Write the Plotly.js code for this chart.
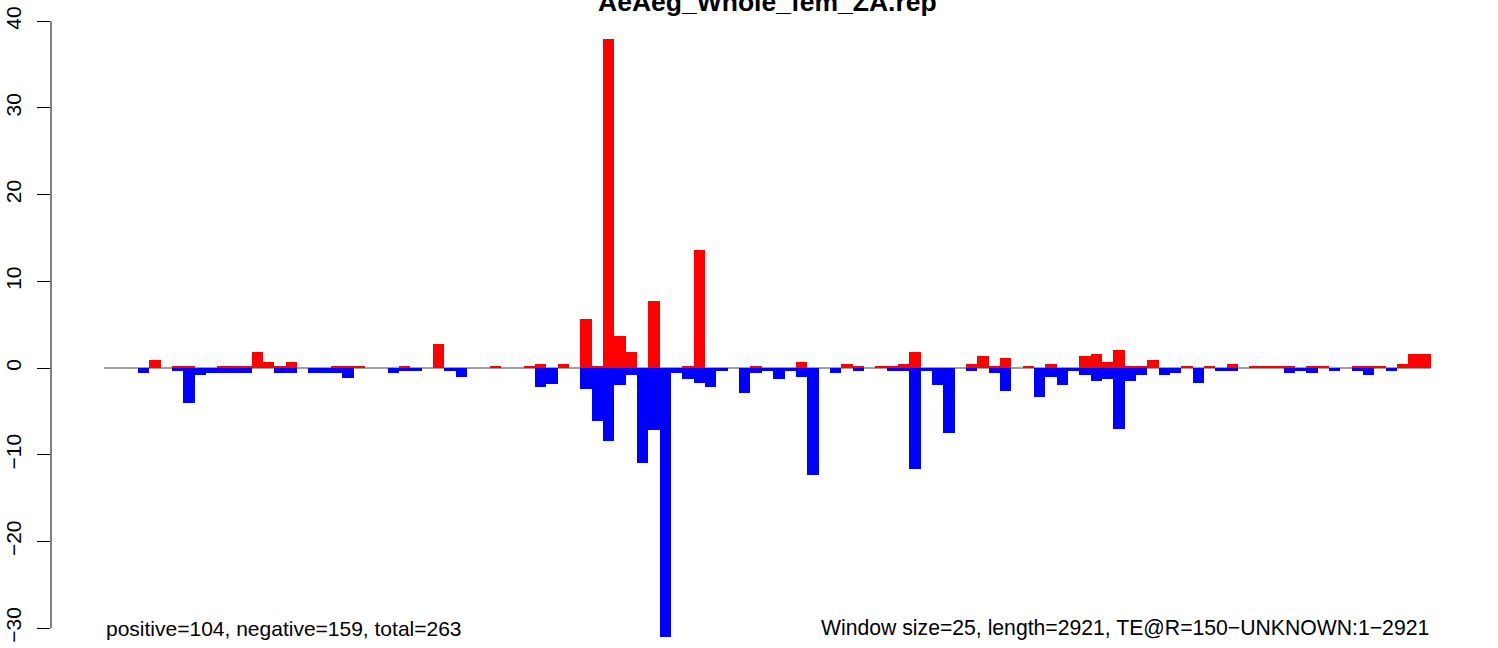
<!DOCTYPE html>
<html>
<head>
<meta charset="utf-8">
<script src="https://cdn.plot.ly/plotly-3.0.1.min.js"></script>
<style>html,body{margin:0;padding:0;background:#fff;}#chart{width:1498px;height:648px;}</style>
</head>
<body>
<div id="chart"></div>
<script>
// Window index (window size 25, length 2921 -> 117 windows)
const windows = Array.from({length: 117}, (_, i) => i);

// Positive-strand values per window (red)
const positiveValues = [
  0, 0, 0, 0, 0.92, 0, 0.23, 0.23, 0, 0,
  0.23, 0.23, 0.23, 1.85, 0.7, 0.23, 0.7, 0, 0, 0,
  0.23, 0.23, 0.23, 0, 0, 0, 0.23, 0, 0, 2.77,
  0, 0, 0, 0, 0.23, 0, 0, 0.23, 0.46, 0,
  0.46, 0, 5.6, 0.23, 38, 3.65, 1.8, 0, 7.7, 0,
  0, 0.23, 13.65, 0, 0, 0, 0, 0.23, 0, 0,
  0, 0.7, 0, 0, 0, 0.46, 0.23, 0, 0.23, 0.23,
  0.46, 1.85, 0, 0, 0, 0, 0.46, 1.38, 0.23, 1.15,
  0, 0.23, 0, 0.46, 0, 0, 1.38, 1.6, 0.7, 2.08,
  0.23, 0.23, 0.92, 0, 0, 0.23, 0, 0.23, 0, 0.46,
  0, 0.23, 0.23, 0.23, 0.23, 0, 0.23, 0.23, 0, 0,
  0.23, 0.23, 0.23, 0, 0.46, 1.6, 1.6
];

// Negative-strand values per window (blue)
const negativeValues = [
  0, 0, 0, -0.55, 0, 0, -0.3, -4.0, -0.77, -0.55,
  -0.55, -0.55, -0.55, 0, 0, -0.55, -0.55, 0, -0.55, -0.55,
  -0.55, -1.2, 0, 0, 0, -0.55, -0.3, -0.3, 0, 0,
  -0.3, -1.0, 0, 0, 0, 0, 0, 0, -2.2, -1.9,
  0, 0, -2.4, -6.15, -8.45, -2.0, -0.8, -11.0, -7.1, -31.0,
  -0.55, -1.23, -1.7, -2.2, -0.3, 0, -2.85, -0.55, -0.3, -1.23,
  -0.3, -1.0, -12.3, 0, -0.55, 0, -0.3, 0, 0, -0.3,
  -0.3, -11.6, -0.3, -1.92, -7.46, 0, -0.3, 0, -0.55, -2.6,
  0, 0, -3.3, -1.0, -1.92, -0.3, -0.77, -1.46, -1.23, -7.0,
  -1.46, -0.77, 0, -0.77, -0.55, 0, -1.73, 0, -0.3, -0.3,
  0, 0, 0, 0, -0.55, -0.3, -0.55, 0, -0.3, 0,
  -0.3, -0.77, 0, -0.3, 0, 0, 0
];

const yTickValues = [-30, -20, -10, 0, 10, 20, 30, 40];
const yTickLabels = ["\u221230", "\u221220", "\u221210", "0", "10", "20", "30", "40"];

const chartTitle = "AeAeg_Whole_fem_ZA.rep";
const leftNote = "positive=104, negative=159, total=263";
const rightNote = "Window size=25, length=2921, TE@R=150\u2212UNKNOWN:1\u22122921";

const FONT = "Liberation Sans, Arial, Helvetica, sans-serif";
const n = windows.length;
const pad = 0.04 * n;

const traces = [
  {type: "bar", x: windows, y: positiveValues, marker: {color: "#ff0000", line: {width: 0}}, hoverinfo: "x+y"},
  {type: "bar", x: windows, y: negativeValues, marker: {color: "#0000ff", line: {width: 0}}, hoverinfo: "x+y"}
];

const layout = {
  width: 1498, height: 648,
  margin: {l: 51, r: 14, t: 15, b: 8},
  paper_bgcolor: "#ffffff", plot_bgcolor: "#ffffff",
  showlegend: false,
  barmode: "overlay", bargap: 0,
  xaxis: {visible: false, range: [-0.5 - pad, n - 0.5 + pad], fixedrange: true},
  yaxis: {
    range: [-31.37, 40.715],
    tickvals: yTickValues, ticktext: yTickLabels,
    tickangle: -90, ticks: "outside", ticklen: 13, tickwidth: 1, tickcolor: "#000",
    showline: false, zeroline: false, showgrid: false,
    tickfont: {family: FONT, size: 21, color: "#000"},
    ticklabelstandoff: 8
  },
  shapes: [
    {type: "line", xref: "x", yref: "y", x0: -0.5, x1: n - 0.5, y0: 0, y1: 0, line: {color: "#a0a0a0", width: 2}, layer: "below"},
    {type: "line", xref: "paper", yref: "y", x0: 0, x1: 0, y0: -30, y1: 40, line: {color: "#000", width: 1}}
  ],
  annotations: [
    {text: "<b>" + chartTitle + "</b>", xref: "paper", yref: "paper", x: 0.5, y: 1, xanchor: "center", yanchor: "bottom", yshift: -4, showarrow: false, font: {family: FONT, size: 26.5, color: "#000"}},
    {text: leftNote, xref: "x", yref: "paper", x: -0.5, y: 0, xanchor: "left", yanchor: "bottom", yshift: -2, showarrow: false, font: {family: FONT, size: 21, color: "#000"}},
    {text: rightNote, xref: "x", yref: "paper", x: n - 0.5, y: 0, xanchor: "right", yanchor: "bottom", yshift: -2, showarrow: false, font: {family: FONT, size: 21.2, color: "#000"}}
  ]
};

Plotly.newPlot("chart", traces, layout, {displayModeBar: false, staticPlot: true});
</script>
</body>
</html>
